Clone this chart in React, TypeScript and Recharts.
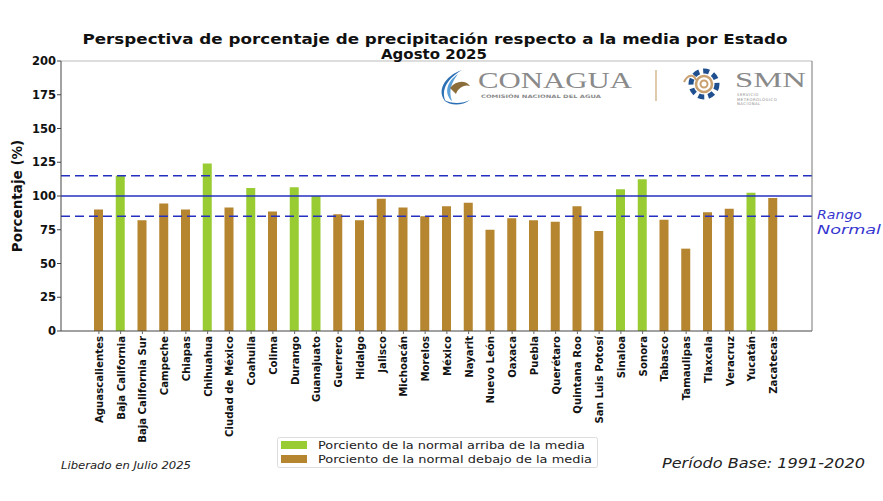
import React from "react";
import {
  BarChart,
  Bar,
  XAxis,
  YAxis,
  Cell,
  ReferenceLine,
} from "recharts";

// Precipitation as a percentage of the 1991-2020 normal, August 2025
const states = [
  "Aguascalientes", "Baja California", "Baja California Sur", "Campeche", "Chiapas",
  "Chihuahua", "Ciudad de México", "Coahuila", "Colima", "Durango", "Guanajuato",
  "Guerrero", "Hidalgo", "Jalisco", "Michoacán", "Morelos", "México", "Nayarit",
  "Nuevo León", "Oaxaca", "Puebla", "Querétaro", "Quintana Roo", "San Luis Potosí",
  "Sinaloa", "Sonora", "Tabasco", "Tamaulipas", "Tlaxcala", "Veracruz", "Yucatán",
  "Zacatecas",
];
const percents = [
  90, 115, 82, 94.5, 90, 124, 91.5, 106, 88.5, 106.5, 100, 86.5, 82, 98, 91.5, 85,
  92.5, 95, 75, 83.5, 82, 81, 92.5, 74, 105, 112.5, 82.5, 61, 88, 90.5, 102.5, 98.5,
];
const yTicks = [0, 25, 50, 75, 100, 125, 150, 175, 200];
const yMax = 200;
const normalMean = 100;
const normalLow = 85;
const normalHigh = 115;

const legendLabels = [
  "Porciento de la normal arriba de la media",
  "Porciento de la normal debajo de la media",
];
const ABOVE = "#99cc33";
const BELOW = "#b5852f";
const LINE = "#2430c0";

const data = states.map((s, i) => ({ estado: s, pct: percents[i] }));

const W = 883;
const H = 501;

const XTick = (props: any) => {
  const { x, y, payload } = props;
  return (
    <text
      x={x}
      y={y}
      transform={`rotate(-90 ${x} ${y})`}
      textAnchor="end"
      dy="0.36em"
      fontFamily="DejaVu Sans Condensed, DejaVu Sans"
      fontWeight="bold"
      fontSize={11.3}
      fill="#111"
    >
      {payload.value}
    </text>
  );
};

export default function App() {
  return (
    <div style={{ position: "absolute", left: 0, top: 0, width: W, height: H, background: "#fff" }}>
      <BarChart
        width={W}
        height={H}
        data={data}
        margin={{ top: 61, right: 70, bottom: 0, left: 21 }}
        barCategoryGap={0}
      >
        <XAxis
          dataKey="estado"
          interval={0}
          height={170}
          tick={<XTick />}
          tickSize={3}
          tickMargin={2}
          padding={{ left: 27, right: 28 }}
          axisLine={{ stroke: "#444" }}
          tickLine={{ stroke: "#666" }}
        />
        <YAxis
          domain={[0, yMax]}
          ticks={yTicks}
          width={40}
          tickSize={4}
          tickMargin={1}
          axisLine={{ stroke: "#444" }}
          tickLine={{ stroke: "#444" }}
          tick={{
            fontFamily: "DejaVu Sans",
            fontWeight: "bold",
            fontSize: 11.5,
            fill: "#111",
          }}
        />
        <YAxis
          yAxisId="right"
          orientation="right"
          domain={[0, yMax]}
          width={1}
          tick={false}
          tickLine={false}
          axisLine={{ stroke: "#777" }}
        />
        <Bar dataKey="pct" barSize={9} isAnimationActive={false}>
          {data.map((d, i) => (
            <Cell key={i} fill={d.pct >= normalMean ? ABOVE : BELOW} />
          ))}
        </Bar>
        {/* top edge of the plot frame */}
        <ReferenceLine y={yMax} stroke="#bbb" strokeWidth={1} />
        <ReferenceLine y={normalHigh} stroke={LINE} strokeWidth={1.6} strokeDasharray="9 5" />
        <ReferenceLine y={normalMean} stroke={LINE} strokeWidth={1.4} />
        <ReferenceLine y={normalLow} stroke={LINE} strokeWidth={1.6} strokeDasharray="9 5" />
      </BarChart>

      <svg
        width={W}
        height={H}
        style={{ position: "absolute", left: 0, top: 0, pointerEvents: "none" }}
      >
        {/* Title */}
        <g fontFamily="DejaVu Sans" fontWeight="bold" fontSize={13.5} fill="#111" textAnchor="middle">
          <text x={435} y={44} textLength={705} lengthAdjust="spacingAndGlyphs">
            Perspectiva de porcentaje de precipitación respecto a la media por Estado
          </text>
          <text x={434} y={59} textLength={106} lengthAdjust="spacingAndGlyphs">
            Agosto 2025
          </text>
        </g>

        {/* Y axis label */}
        <text
          x={22}
          y={196}
          transform="rotate(-90 22 196)"
          textAnchor="middle"
          fontFamily="DejaVu Sans"
          fontWeight="bold"
          fontSize={13.5}
          fill="#111"
        >
          Porcentaje (%)
        </text>

        {/* Normal range label */}
        <g fontFamily="DejaVu Sans" fontStyle="italic" fontSize={12.5} fill="#3535d0">
          <text x={817} y={219} textLength={45} lengthAdjust="spacingAndGlyphs">Rango</text>
          <text x={817} y={234} textLength={64} lengthAdjust="spacingAndGlyphs">Normal</text>
        </g>

        {/* CONAGUA logo */}
        <g>
          <path d="M462 70 C444 76 436 92 446 102 C440 90 448 78 462 70 Z" fill="#2b6fb5" />
          <path d="M458 74 C446 82 444 94 452 101 C448 90 452 82 458 74 Z" fill="#5aa0d8" />
          <path d="M450 88 C456 80 466 80 470 86 C464 84 458 88 456 94 Z" fill="#8a6d3b" />
          <path d="M444 100 C452 104 462 104 470 100 C462 106 450 106 444 100 Z" fill="#2b6fb5" />
          <text x={478} y={88} fontFamily="Liberation Serif, DejaVu Serif" fontSize={24} fill="#8a8a8a" textLength={154} lengthAdjust="spacingAndGlyphs">
            CONAGUA
          </text>
          <text x={481} y={98} fontFamily="DejaVu Sans" fontWeight="bold" fontSize={4.6} fill="#8a8a8a" textLength={120} lengthAdjust="spacingAndGlyphs">
            COMISIÓN NACIONAL DEL AGUA
          </text>
          <line x1={656} y1={70} x2={656} y2={101} stroke="#c9a97a" strokeWidth={1.2} />
        </g>

        {/* SMN logo */}
        <g>
          <circle cx={704} cy={84} r={13} fill="none" stroke="#1f4f8f" strokeWidth={5} strokeDasharray="6 4" />
          <circle cx={704} cy={84} r={8} fill="none" stroke="#c9a070" strokeWidth={2.5} />
          <circle cx={704} cy={84} r={3.5} fill="none" stroke="#c9a070" strokeWidth={2} />
          <path d="M684 82 C688 74 694 74 696 80" fill="none" stroke="#c9a070" strokeWidth={2} />
          <text x={735} y={87} fontFamily="Liberation Serif, DejaVu Serif" fontSize={22} fill="#8a8a8a" textLength={71} lengthAdjust="spacingAndGlyphs">
            SMN
          </text>
          <g fontFamily="DejaVu Sans" fontSize={3.8} fill="#8a8a8a" letterSpacing={0.5}>
            <text x={737} y={96}>SERVICIO</text>
            <text x={737} y={100.5}>METEOROLÓGICO</text>
            <text x={737} y={105}>NACIONAL</text>
          </g>
        </g>

        {/* Legend */}
        <g>
          <rect x={277.5} y={437.5} width={320} height={30} rx={2} fill="#fff" stroke="#ddd" />
          {legendLabels.map((label, i) => (
            <g key={label}>
              <rect x={281} y={441 + i * 14} width={26} height={8} fill={i === 0 ? ABOVE : BELOW} />
              <text
                x={318}
                y={449 + i * 14}
                fontFamily="DejaVu Sans"
                fontSize={11}
                fill="#222"
                textLength={i === 0 ? 267 : 274}
                lengthAdjust="spacingAndGlyphs"
              >
                {label}
              </text>
            </g>
          ))}
        </g>

        {/* Footer notes */}
        <text x={61} y={469} fontFamily="DejaVu Sans" fontStyle="italic" fontSize={10.5} fill="#222" textLength={130} lengthAdjust="spacingAndGlyphs">
          Liberado en Julio 2025
        </text>
        <text x={662} y={468} fontFamily="DejaVu Sans" fontStyle="italic" fontSize={14} fill="#222" textLength={203} lengthAdjust="spacingAndGlyphs">
          Período Base: 1991-2020
        </text>
      </svg>
    </div>
  );
}
